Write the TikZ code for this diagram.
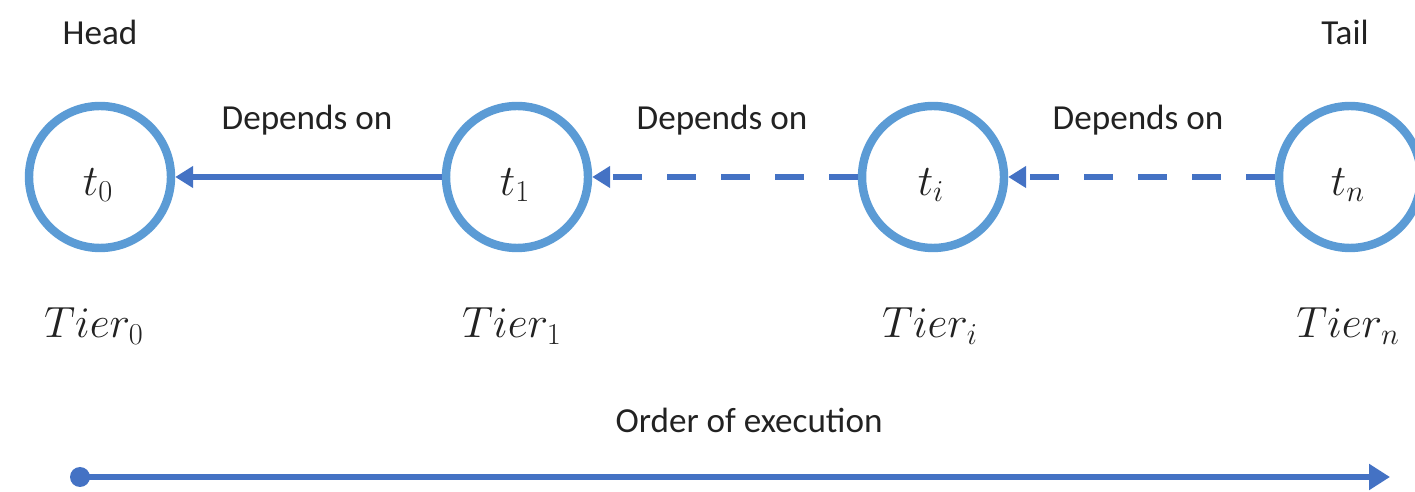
\documentclass[tikz,border=0pt]{standalone}
\usepackage{fontspec}
\setmainfont{Carlito}
\usetikzlibrary{arrows.meta}
\definecolor{ringblue}{HTML}{5B9BD5}
\definecolor{arrowblue}{HTML}{4472C4}
\definecolor{ink}{HTML}{222222}
\begin{document}
\begin{tikzpicture}[x=0.02cm,y=-0.02cm,
  tier/.style={circle,draw=ringblue,line width=4.8pt,minimum size=2.84cm,inner sep=0pt,
    font=\fontsize{26}{30}\selectfont,text=ink},
  caption/.style={font=\fontsize{20}{24}\selectfont,text=ink,inner sep=0pt},
  tierlabel/.style={font=\fontsize{26}{30}\selectfont,text=ink,inner sep=0pt,anchor=base},
  depends/.style={draw=arrowblue,line width=2.9pt,-{Triangle[length=0.36cm,width=0.42cm]}},
  dashdep/.style={depends,line width=3.6pt,dash pattern=on 0.58cm off 0.5cm},
  timeline/.style={draw=arrowblue,line width=3.8pt,-{Triangle[length=0.42cm,width=0.5cm]}}]
  \useasboundingbox (0,0) rectangle (1415,492);
  \clip (0,0) rectangle (1415,492);

  % tiers
  \node[tier] (t0) at (100,177) {};
  \node[tier] (t1) at (517,177) {};
  \node[tier] (ti) at (933,177) {};
  \node[tier] (tn) at (1350,177) {};
  \node[font=\fontsize{26}{30}\selectfont,text=ink] (l0) at (98,185) {$t_0$};
  \node[font=\fontsize{26}{30}\selectfont,text=ink] (l1) at (515,185) {$t_1$};
  \node[font=\fontsize{26}{30}\selectfont,text=ink] (li) at (931,185) {$t_i$};
  \node[font=\fontsize{26}{30}\selectfont,text=ink] (ln) at (1348,185) {$t_n$};

  % end markers
  \node[caption] (head) at (100,32) {Head};
  \node[caption] (tail) at (1345,32) {Tail};

  % dependency edges
  \draw[depends] (t1) -- (t0);
  \draw[dashdep] (ti) -- (t1);
  \draw[dashdep] (tn) -- (ti);
  \node[caption] (d1) at (307,120) {Depends on};
  \node[caption] (d2) at (722,120) {Depends on};
  \node[caption] (d3) at (1138,120) {Depends on};

  % tier names
  \node[tierlabel] (n0) at (94,338) {$Tier_0$};
  \node[tierlabel] (n1) at (512,338) {$Tier_1$};
  \node[tierlabel] (ni) at (930,338) {$Tier_i$};
  \node[tierlabel] (nn) at (1348,338) {$Tier_n$};

  % execution order
  \node[caption] (order) at (749,420) {Order of execution};
  \coordinate (start) at (80,477);
  \coordinate (finish) at (1390,477);
  \draw[timeline] (start) -- (finish);
  \fill[arrowblue] (start) circle (10);
\end{tikzpicture}
\end{document}
